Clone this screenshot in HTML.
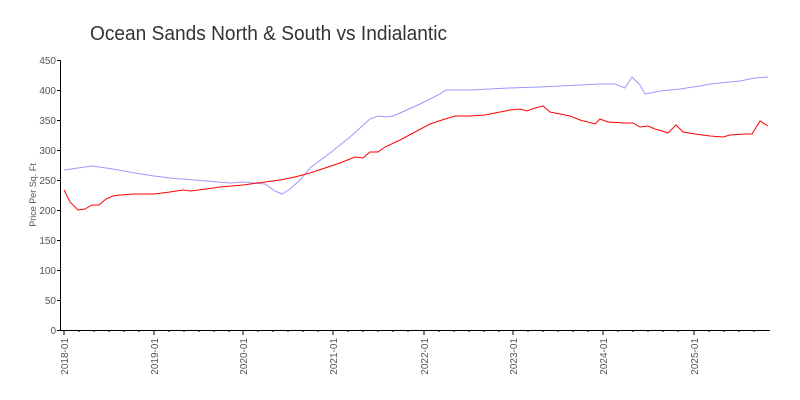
<!DOCTYPE html>
<html><head><style>body{margin:0;background:#fff}svg{display:block}text{font-family:"Liberation Sans",sans-serif;fill:#555}</style></head><body>
<svg width="800" height="400" xmlns="http://www.w3.org/2000/svg">
<text x="90" y="40" font-size="20" textLength="357" lengthAdjust="spacingAndGlyphs" style="fill:#333">Ocean Sands North &amp; South vs Indialantic</text>
<g stroke="#000" stroke-width="1" fill="none">
<line x1="60.5" y1="60" x2="60.5" y2="331"/>
<line x1="60" y1="330.5" x2="770" y2="330.5"/>
</g>
<g font-size="10" text-anchor="end">
<text x="56" y="334">0</text><text x="56" y="304">50</text><text x="56" y="274">100</text><text x="56" y="244">150</text><text x="56" y="214">200</text><text x="56" y="184">250</text><text x="56" y="154">300</text><text x="56" y="124">350</text><text x="56" y="94">400</text><text x="56" y="64">450</text>
</g>
<g stroke="#000">
<path d="M57 330.5h3M57 300.5h3M57 270.5h3M57 240.5h3M57 210.5h3M57 180.5h3M57 150.5h3M57 120.5h3M57 90.5h3M57 60.5h3"/>
<path d="M64 330v5M154 330v5M243 330v5M333 330v5M424 330v5M513 330v5M603 330v5M694 330v5"/>
<path d="M79 330v2M94 330v2M109 330v2M124 330v2M139 330v2M169 330v2M184 330v2M199 330v2M214 330v2M229 330v2M258 330v2M273 330v2M288 330v2M303 330v2M318 330v2M348 330v2M363 330v2M378 330v2M393 330v2M408 330v2M439 330v2M454 330v2M469 330v2M484 330v2M499 330v2M528 330v2M543 330v2M558 330v2M573 330v2M588 330v2M618 330v2M633 330v2M648 330v2M663 330v2M678 330v2M709 330v2M724 330v2M739 330v2M754 330v2"/>
</g>
<text transform="translate(36,195) rotate(-90)" font-size="9" text-anchor="middle">Price Per Sq. Ft</text>
<g font-size="10" text-anchor="end">
<text transform="translate(68,338) rotate(-90)">2018-01</text>
<text transform="translate(158,338) rotate(-90)">2019-01</text>
<text transform="translate(247,338) rotate(-90)">2020-01</text>
<text transform="translate(337,338) rotate(-90)">2021-01</text>
<text transform="translate(428,338) rotate(-90)">2022-01</text>
<text transform="translate(517,338) rotate(-90)">2023-01</text>
<text transform="translate(607,338) rotate(-90)">2024-01</text>
<text transform="translate(698,338) rotate(-90)">2025-01</text>
</g>
<polyline fill="none" stroke="#9999ff" stroke-width="1" points="64,170 78,168 92,166 113,169 135,173 154,176 170,178 206,181 230,183 243,182 265,184 275,191 282,194 290,189 300,180 310,168 330,153 350,137 370,119 378,116 385,117 393,116 400,113 420,104 440,94 446,90 455,90 470,90 510,88 540,87 560,86 600,84 615,84 625,88 632,77 640,85 645,94 660,91 680,89 700,86 710,84 740,81 755,78 768,77"/>
<polyline fill="none" stroke="#ff0000" stroke-width="1" points="64,190 70,202 78,210 85,209 92,205 99,205 106,199 113,196 120,195 135,194 154,194 170,192 183,190 191,191 206,189 220,187 243,185 265,182 280,180 295,177 310,173 325,168 340,163 355,157 363,158 370,152 378,152 385,147 400,140 415,132 430,124 445,119 455,116 470,116 485,115 500,112 510,110 520,109 527,111 535,108 543,106 550,112 560,114 570,116 580,120 595,124 600,119 608,122 625,123 633,123 640,127 648,126 655,129 662,131 668,133 676,125 683,132 695,134 710,136 723,137 730,135 745,134 752,134 760,121 768,126"/>
</svg>
</body></html>
